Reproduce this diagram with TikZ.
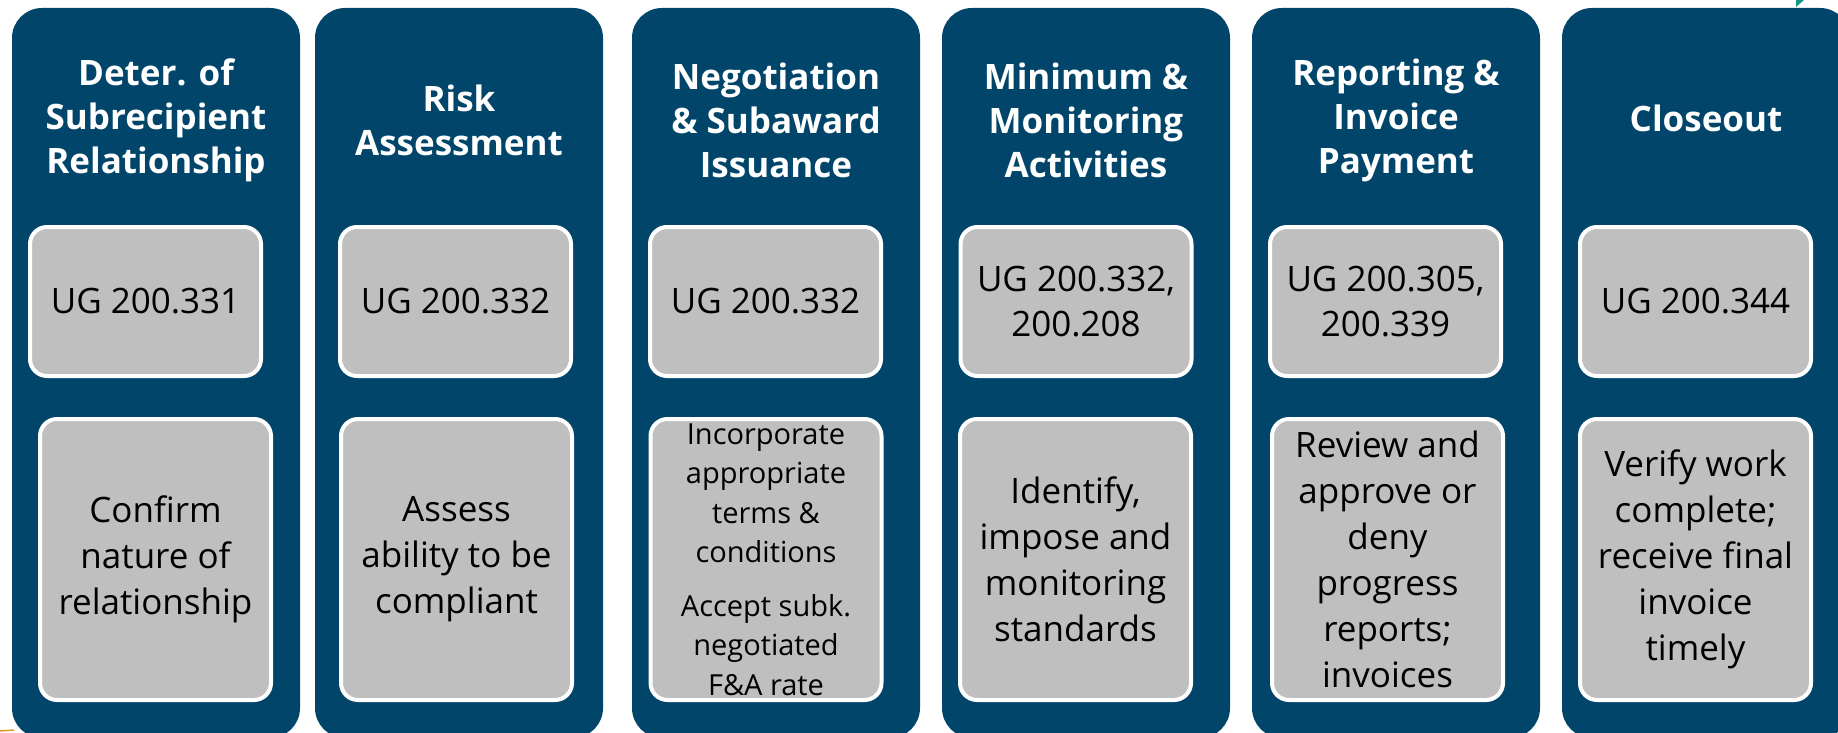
\documentclass[tikz,border=0pt]{standalone}
\usepackage{fontspec}
\setmainfont{Open Sans}
\usetikzlibrary{positioning}
\definecolor{navy}{RGB}{1,70,106}
\definecolor{boxgray}{RGB}{191,191,191}
\definecolor{tealmark}{RGB}{20,150,130}
\definecolor{orangemark}{RGB}{232,150,40}

\begin{document}
\begin{tikzpicture}
		[x=1pt, y=-1pt,
		column/.style={rectangle, rounded corners=30pt, fill=navy, minimum width=288pt, minimum height=730pt, inner sep=0pt},
		title/.style={text=white, align=center, font=\bfseries\fontsize{35}{44}\selectfont},
		ugbox/.style={rectangle, rounded corners=17pt, fill=boxgray, draw=white, line width=4pt, minimum width=231pt, minimum height=149pt, inner sep=0pt, align=center, font=\fontsize{35}{45}\selectfont},
		taskbox/.style={ugbox, minimum height=281pt, font=\fontsize{35}{46}\selectfont}]
		\useasboundingbox (0,0) rectangle (1838,733);
		\clip (0,0) rectangle (1838,733);

		\node[column] (c1) at (156,373) {};
		\node[column] (c2) at (459,373) {};
		\node[column] (c3) at (776,373) {};
		\node[column] (c4) at (1086,373) {};
		\node[column] (c5) at (1396,373) {};
		\node[column] (c6) at (1706,373) {};

		\node[title] (t1) at (156,120) {Deter. of\\Subrecipient\\Relationship};
		\node[title] (t2) at (459,120) {Risk\\Assessment};
		\node[title] (t3) at (776,120) {Negotiation\\\& Subaward\\Issuance};
		\node[title] (t4) at (1086,120) {Minimum \&\\Monitoring\\Activities};
		\node[title] (t5) at (1396,120) {Reporting \&\\Invoice\\Payment};
		\node[title] (t6) at (1706,118) {Closeout};

		\node[ugbox] (u1) at (145.5,301.5) {UG 200.331};
		\node[ugbox] (u2) at (455.5,301.5) {UG 200.332};
		\node[ugbox] (u3) at (765.5,301.5) {UG 200.332};
		\node[ugbox] (u4) at (1076,301.5) {UG 200.332,\\200.208};
		\node[ugbox] (u5) at (1385.5,301.5) {UG 200.305,\\200.339};
		\node[ugbox] (u6) at (1695.5,301.5) {UG 200.344};

		\node[taskbox] (l1) at (155.5,559.5) {Confirm\\nature of\\relationship};
		\node[taskbox] (l2) at (456.5,559.5) {Assess\\ability to be\\compliant};
		\node[taskbox, font=\fontsize{29}{39.5}\selectfont] (l3) at (766,559.5)
			{Incorporate\\appropriate\\terms \&\\conditions\\[14pt]Accept subk.\\negotiated\\F\&A rate};
		\node[taskbox] (l4) at (1075.5,559.5) {Identify,\\impose and\\monitoring\\standards};
		\node[taskbox] (l5) at (1387.5,559.5) {Review and\\approve or\\deny\\progress\\reports;\\invoices};
		\node[taskbox] (l6) at (1695.5,559.5) {Verify work\\complete;\\receive final\\invoice\\timely};

		% bits of shapes cut off at the edges
		\fill[tealmark] (1796,0) -- (1804,0) -- (1796,7) -- cycle;
		\draw[orangemark, line width=1.5pt] (0,731) -- (14,730);
	\end{tikzpicture}
\end{document}
